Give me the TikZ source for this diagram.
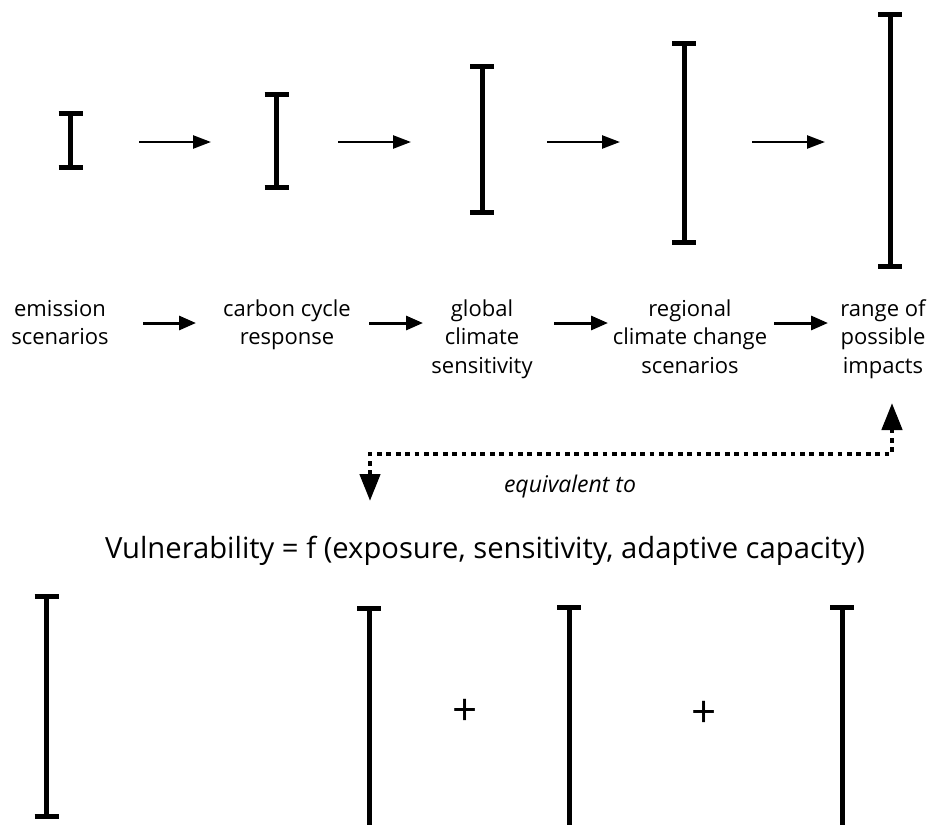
\documentclass[tikz,border=0pt]{standalone}
\usepackage{fontspec}
\setmainfont{Open Sans}
\usetikzlibrary{arrows.meta}
\newcommand\ebar[3]{\draw[bar] (#1-12,#2) -- (#1+12,#2) (#1,#2) -- (#1,#3) (#1-12,#3) -- (#1+12,#3);}
\begin{document}
\begin{tikzpicture}[x=1pt,y=-1pt,
  bar/.style={line width=5pt},
  flow/.style={line width=2.5pt,-{Triangle[length=18pt,width=13pt]}},
  flowb/.style={line width=3pt,-{Triangle[length=17pt,width=14pt]}},
  equiv/.style={line width=4.5pt,dash pattern=on 4.8pt off 4.6pt,{Triangle[length=27pt,width=20pt]}-{Triangle[length=27pt,width=20pt]}},
  lbl/.style={font=\fontsize{22}{28.5}\selectfont,align=center,inner sep=0pt,anchor=base},
]
\useasboundingbox (0,0) rectangle (930,825);
\clip (0,0) rectangle (930,825);
% top error bars
\ebar{70.7}{113.3}{167.3}
\ebar{276.7}{94}{187.7}
\ebar{482.3}{66.7}{212.7}
\ebar{684}{43.3}{242.3}
\ebar{890}{14.7}{266.7}
% top arrows
\coordinate (t1s) at (139,142); \coordinate (t1e) at (211,142);
\coordinate (t2s) at (338,142); \coordinate (t2e) at (411,142);
\coordinate (t3s) at (547,142); \coordinate (t3e) at (620,142);
\coordinate (t4s) at (752,142); \coordinate (t4e) at (825,142);
\draw[flow] (t1s) -- (t1e);
\draw[flow] (t2s) -- (t2e);
\draw[flow] (t3s) -- (t3e);
\draw[flow] (t4s) -- (t4e);
% labels (base anchor = baseline of last line)
\node[lbl] (emis) at (60,344.5) {emission\\scenarios};
\node[lbl] (carb) at (287,344.5) {carbon cycle\\response};
\node[lbl] (glob) at (482,373) {global\\climate\\sensitivity};
\node[lbl] (regi) at (690,373) {regional\\climate change\\scenarios};
\node[lbl] (rang) at (883,373) {range of\\possible\\impacts};
% middle arrows
\coordinate (m1s) at (143,323); \coordinate (m1e) at (196,323);
\coordinate (m2s) at (369,323); \coordinate (m2e) at (423,323);
\coordinate (m3s) at (554,323); \coordinate (m3e) at (608,323);
\coordinate (m4s) at (774,323); \coordinate (m4e) at (828,323);
\draw[flowb] (m1s) -- (m1e);
\draw[flowb] (m2s) -- (m2e);
\draw[flowb] (m3s) -- (m3e);
\draw[flowb] (m4s) -- (m4e);
% dotted equivalence arrow
\coordinate (dn) at (370,501);
\coordinate (up) at (892,403);
\draw[equiv] (dn) -- (370,454) -- (892,454) -- (up);
\node[font=\fontsize{23}{28}\selectfont\itshape,anchor=base,inner sep=0pt] (eq) at (570,492) {equivalent to};
\node[font=\fontsize{29.2}{34}\selectfont,anchor=base,inner sep=0pt] (vul) at (485,558) {Vulnerability = f (exposure, sensitivity, adaptive capacity)};
% bottom bars
\ebar{46.7}{596.7}{816.7}
\ebar{369}{608}{827}
\ebar{569}{607}{827}
\ebar{842}{607}{827}
\node[font=\fontsize{44}{48}\selectfont,inner sep=0pt] (p1) at (465,712) {+};
\node[font=\fontsize{44}{48}\selectfont,inner sep=0pt] (p2) at (704,714) {+};
\end{tikzpicture}
\end{document}
